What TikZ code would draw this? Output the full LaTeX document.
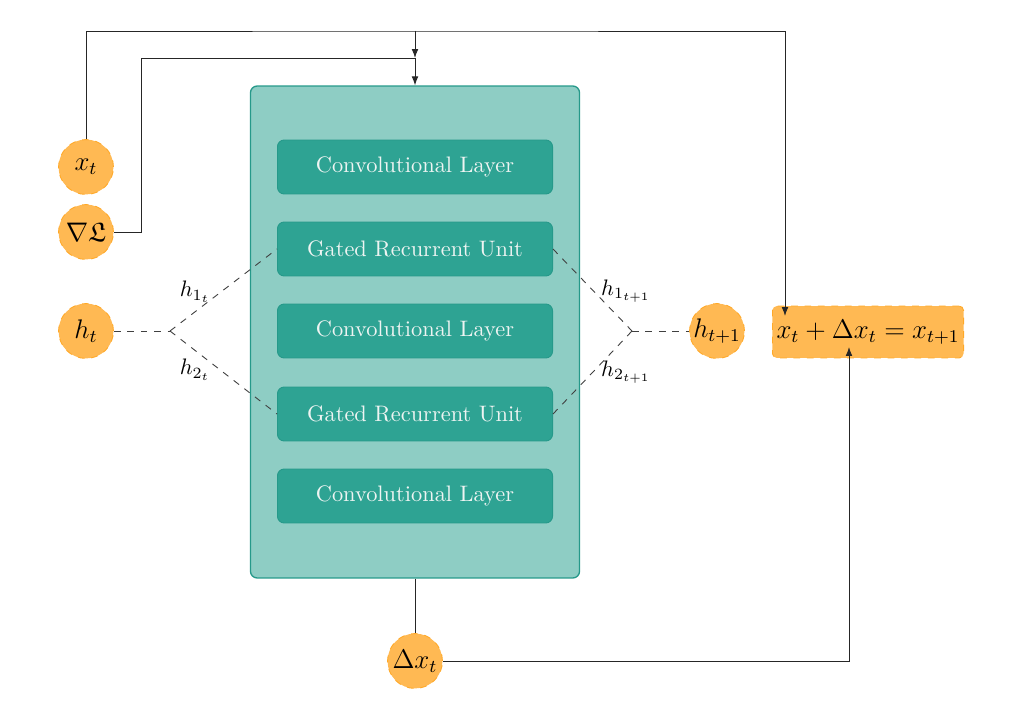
\documentclass[tikz,border=0pt]{standalone}
\usepackage{amsmath,amssymb}
\usetikzlibrary{arrows.meta,positioning}
\definecolor{tealfill}{HTML}{8ECDC4}
\definecolor{tealdark}{HTML}{2EA393}
\definecolor{tealedge}{HTML}{26998A}
\definecolor{orfill}{HTML}{FFB953}
\definecolor{oredge}{HTML}{FFA928}
\definecolor{txtlight}{HTML}{EEF4F2}
\begin{document}
\begin{tikzpicture}[x=0.4464pt,y=-0.4464pt,
  outerbox/.style={draw=tealedge,fill=tealfill,rounded corners=3pt,minimum width=146.9pt,minimum height=219.6pt,inner sep=0pt,line width=0.6pt},
  layerbox/.style={draw=tealedge,fill=tealdark,rounded corners=3pt,minimum width=122.8pt,minimum height=24.1pt,inner sep=0pt,text=txtlight,font=\normalsize},
  orcirc/.style={circle,draw=oredge,dashed,fill=orfill,minimum size=24.5pt,inner sep=0pt,font=\large},
  orbox/.style={rectangle,rounded corners=2pt,draw=oredge,dashed,fill=orfill,minimum width=85.3pt,minimum height=23.2pt,inner sep=0pt,font=\large},
  conn/.style={draw=black!85,line width=0.4pt},
  arr/.style={conn,-{Latex[length=4pt,width=3pt]}},
  hid/.style={draw=black!75,dashed,line width=0.4pt}]
\useasboundingbox (0,0) rectangle (1011,711);
\node[outerbox] (net) at (415,332) {};
\node[layerbox] (c1) at (415,167) {Convolutional Layer};
\node[layerbox] (g1) at (415,249) {Gated Recurrent Unit};
\node[layerbox] (c2) at (415,331) {Convolutional Layer};
\node[layerbox] (g2) at (415,414) {Gated Recurrent Unit};
\node[layerbox] (c3) at (415,496) {Convolutional Layer};
\node[orcirc] (xt) at (86,167) {$x_t$};
\node[orcirc] (grad) at (86,232) {$\nabla\mathfrak{L}$};
\node[orcirc] (ht) at (86,331) {$h_t$};
\node[orcirc] (ht1) at (717,331) {$h_{t+1}$};
\node[orcirc] (dx) at (415,661) {$\Delta x_t$};
\node[orbox] (res) at (868,332) {$x_t+\Delta x_t=x_{t+1}$};
\coordinate (jl) at (170,331);
\coordinate (jr) at (632,331);
\coordinate (top) at (415,31);
\coordinate (mid) at (415,58);
\coordinate (resin) at (785,316);
\coordinate (resbot) at (849,347);
% top connectors
\draw[arr] (xt.north) |- (top) -| (resin);
\draw[arr] (top) -- (mid);
\draw[arr] (grad.east) -| (141,58) -- (mid) -- (net.north);
% bottom
\draw[conn] (net.south) -- (dx.north);
\draw[arr] (dx.east) -| (resbot);
% hidden states
\draw[hid] (ht.east) -- (jl);
\draw[hid] (jl) -- (g1.west);
\draw[hid] (jl) -- (g2.west);
\draw[hid] (g1.east) -- (jr);
\draw[hid] (g2.east) -- (jr);
\draw[hid] (jr) -- (ht1.west);
\node (l1) at (195,292) {$h_{1_t}$};
\node (l2) at (195,370) {$h_{2_t}$};
\node (l3) at (626,291) {$h_{1_{t+1}}$};
\node (l4) at (626,372) {$h_{2_{t+1}}$};
\end{tikzpicture}
\end{document}
